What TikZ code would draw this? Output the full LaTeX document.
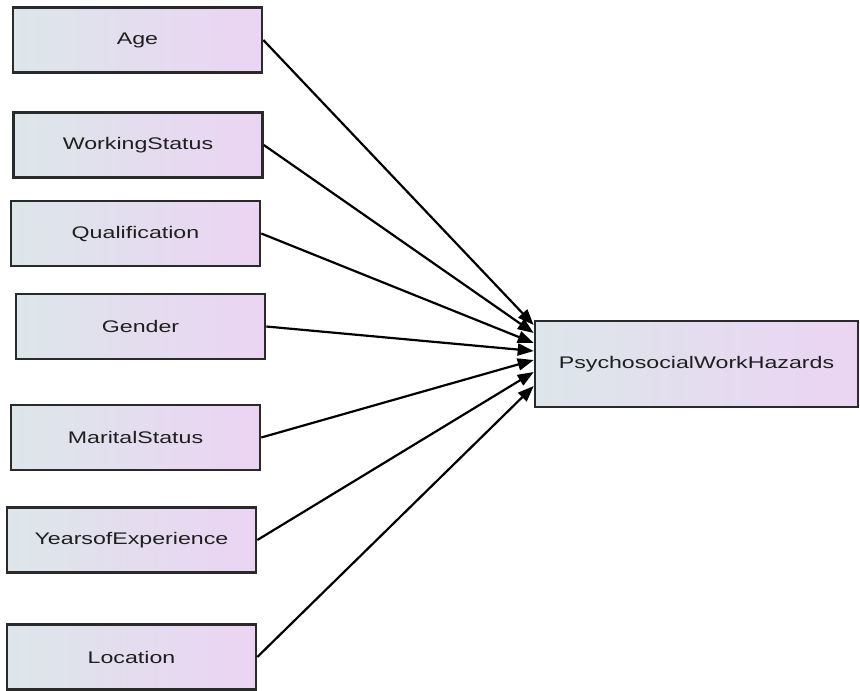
\documentclass[tikz,border=0pt]{standalone}
\usepackage{fontspec}
\setmainfont[FakeStretch=1.38]{Liberation Sans}
\usetikzlibrary{arrows.meta}

\definecolor{boxleft}{HTML}{DDE6EA}
\definecolor{boxright}{HTML}{EBD4F3}
\definecolor{boxline}{HTML}{2A2A2A}

\begin{document}
\begin{tikzpicture}[x=0.5pt, y=-0.5pt, >={Triangle[length=8pt,width=6pt]}, line width=1.1pt]
    \tikzstyle{factor}=[rectangle,draw=boxline,line width=1.3pt,left color=boxleft,right color=boxright,
        minimum width=124.5pt,minimum height=32.5pt,inner sep=0pt,text=black!88,font=\fontsize{8.4}{10}\selectfont]
    \useasboundingbox (0,0) rectangle (860,690);
    \node[factor] (age) at (137.5,40) {Age};
    \node[factor] (working) at (138,145) {WorkingStatus};
    \node[factor] (qualification) at (135.5,233.5) {Qualification};
    \node[factor] (gender) at (140.5,326.5) {Gender};
    \node[factor] (marital) at (135.5,437.5) {MaritalStatus};
    \node[factor] (experience) at (131.5,540) {YearsofExperience};
    \node[factor] (location) at (131.5,657) {Location};
    \node[factor,minimum width=161.5pt,minimum height=43pt] (hazards) at (696.5,364) {PsychosocialWorkHazards};
    \path[->](age.east)edge([yshift=19.5pt]hazards.west);
    \path[->](working.east)edge([yshift=15.5pt]hazards.west);
    \path[->](qualification.east)edge([yshift=10.5pt]hazards.west);
    \path[->](gender.east)edge([yshift=6.5pt]hazards.west);
    \path[->](marital.east)edge([yshift=2pt]hazards.west);
    \path[->](experience.east)edge([yshift=-4pt]hazards.west);
    \path[->](location.east)edge([yshift=-11pt]hazards.west);
\end{tikzpicture}
\end{document}
